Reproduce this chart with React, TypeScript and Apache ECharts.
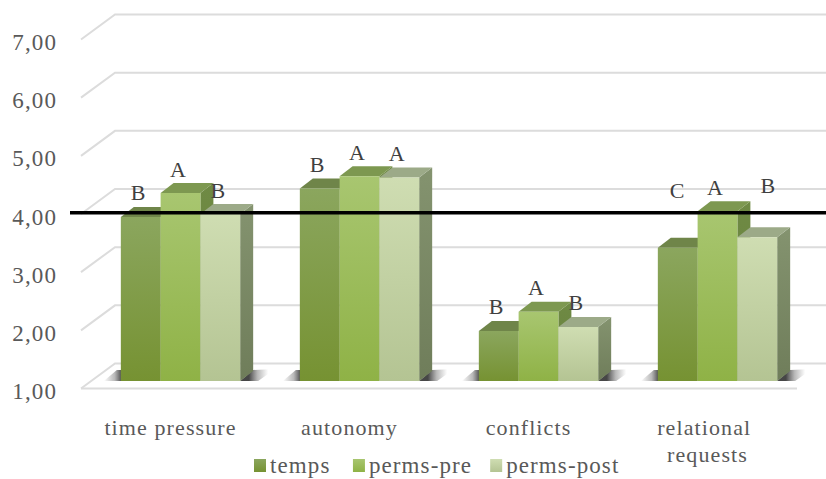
import React, { useEffect, useRef } from "react";
import * as echarts from "echarts";

const categories = ["time pressure", "autonomy", "conflicts", "relational requests"];
const seriesNames = ["temps", "perms-pre", "perms-post"];
const temps = [3.82, 4.31, 1.86, 3.29];
const permsPre = [4.23, 4.52, 2.19, 3.92];
const permsPost = [3.87, 4.5, 1.93, 3.47];
const tempsLetters = ["B", "B", "B", "C"];
const permsPreLetters = ["A", "A", "A", "A"];
const permsPostLetters = ["B", "A", "B", "B"];
const axisTicks = [1, 2, 3, 4, 5, 6, 7];
const referenceLevel = [4.02];

// Pseudo-3D projection, in pixels
const WALL = { dx: 34, dy: -25 };
const BAR_PLANE = { dx: 10, dy: -7.5 };
const BAR_DEPTH = { dx: 13, dy: -10 };
const BAR_RATIO = 2 / 9;
const FONT = "Liberation Serif";

const vGrad = (top: string, bottom: string) =>
  new echarts.graphic.LinearGradient(0, 0, 0, 1, [
    { offset: 0, color: top },
    { offset: 1, color: bottom },
  ]);

const palettes = [
  { front: ["#8ba65e", "#769232"], side: ["#6b8044", "#5e7230"], top: "#6f8549", legend: ["#8ba65e", "#769232"] },
  { front: ["#a8c670", "#8fb246"], side: ["#6f8a44", "#66803c"], top: "#7d9850", legend: ["#a8c670", "#8fb246"] },
  { front: ["#cfddb2", "#b4c493"], side: ["#84936f", "#6f7d5a"], top: "#9caa88", legend: ["#cfddb2", "#b4c493"] },
];

const tripleValues = [temps, permsPre, permsPost];
const tripleLetters = [tempsLetters, permsPreLetters, permsPostLetters];
// Letters sit above their bar; two of them were placed by hand further up
const LETTER_SHIFT = { dx: -2, dy: -24 };
const letterOverrides: Record<string, { dx: number; dy: number }> = {
  "3-0": { dx: 0, dy: -57 },
  "3-2": { dx: 11, dy: -52 },
};

function barGeometry(api: any, s: number) {
  const cat = api.value(0);
  const v = api.value(1);
  const band = api.size([1, 0])[0];
  const w = band * BAR_RATIO;
  const [cx, top] = api.coord([cat, v]);
  const base = api.coord([cat, 1])[1];
  const x0 = cx + (s - 1.5) * w + BAR_PLANE.dx;
  return { x0, x1: x0 + w, top: top + BAR_PLANE.dy, base: base + BAR_PLANE.dy };
}

function renderWalls(_: any, api: any) {
  const v = api.value(1);
  const band = api.size([1, 0])[0];
  const [cx, y] = api.coord([0, v]);
  const left = cx - band / 2;
  const right = left + band * categories.length;
  const stroke = { stroke: "#dcdcdc", lineWidth: 2, fill: "none" };
  const children: any[] = [
    {
      type: "polyline",
      shape: { points: [[left, y], [left + WALL.dx, y + WALL.dy], [right + WALL.dx, y + WALL.dy]] },
      style: stroke,
    },
  ];
  if (v === axisTicks[0]) {
    children.push({ type: "line", shape: { x1: left, y1: y, x2: right, y2: y }, style: stroke });
  }
  return { type: "group", children };
}

// Soft floor shadows to the left and right of each bar group
function renderShadow(_: any, api: any) {
  const cat = api.value(0);
  const band = api.size([1, 0])[0];
  const w = band * BAR_RATIO;
  const [cx, base0] = api.coord([cat, 1]);
  const base = base0 + BAR_PLANE.dy;
  const xl = cx - 1.5 * w + BAR_PLANE.dx;
  const xr = cx + 1.5 * w + BAR_PLANE.dx;
  const leftGrad = new echarts.graphic.LinearGradient(0, 0, 1, 0, [
    { offset: 0, color: "rgba(80,80,80,0)" },
    { offset: 0.6, color: "rgba(80,80,80,0.4)" },
    { offset: 1, color: "rgba(50,50,50,0.9)" },
  ]);
  const rightGrad = new echarts.graphic.LinearGradient(0, 0, 1, 0, [
    { offset: 0.25, color: "rgba(50,50,50,0.9)" },
    { offset: 0.5, color: "rgba(80,80,80,0.4)" },
    { offset: 0.8, color: "rgba(80,80,80,0)" },
  ]);
  return {
    type: "group",
    children: [
      {
        type: "polygon",
        shape: { points: [[xl + 1, base], [xl + 1, base - 11], [xl - 4, base - 11], [xl - 17, base]] },
        style: { fill: leftGrad },
      },
      {
        type: "polygon",
        shape: { points: [[xr, base], [xr + 13, base - 11], [xr + 35, base - 12], [xr + 18, base]] },
        style: { fill: rightGrad },
      },
    ],
  };
}

const renderBar = (s: number) => (_: any, api: any) => {
  const { x0, x1, top, base } = barGeometry(api, s);
  const p = palettes[s];
  const d = BAR_DEPTH;
  return {
    type: "group",
    children: [
      {
        type: "polygon",
        shape: { points: [[x1, top], [x1 + d.dx, top + d.dy], [x1 + d.dx, base + d.dy], [x1, base]] },
        style: { fill: vGrad(p.side[0], p.side[1]) },
      },
      {
        type: "polygon",
        shape: { points: [[x0, top], [x0 + d.dx, top + d.dy], [x1 + d.dx, top + d.dy], [x1, top]] },
        style: { fill: p.top },
      },
      {
        type: "rect",
        shape: { x: x0, y: top, width: x1 - x0, height: base - top },
        style: { fill: vGrad(p.front[0], p.front[1]) },
      },
    ],
  };
};

const renderLetters = (s: number) => (_: any, api: any) => {
  const cat = api.value(0);
  const { x0, x1, top } = barGeometry(api, s);
  const shift = letterOverrides[`${cat}-${s}`] || LETTER_SHIFT;
  return {
    type: "text",
    x: (x0 + x1) / 2 + shift.dx,
    y: top + shift.dy,
    style: {
      text: tripleLetters[s][cat],
      font: `22px "${FONT}"`,
      fill: "#404040",
      textAlign: "center",
      textVerticalAlign: "middle",
    },
  };
};

function renderThreshold(_: any, api: any) {
  const band = api.size([1, 0])[0];
  const [cx, y] = api.coord([0, api.value(1)]);
  const left = cx - band / 2;
  return {
    type: "line",
    shape: { x1: left - 11, y1: y, x2: left + band * categories.length + 40, y2: y },
    style: { stroke: "#000000", lineWidth: 3.5 },
  };
}

export default function App() {
  const ref = useRef<HTMLDivElement>(null);

  useEffect(() => {
    const chart = echarts.init(ref.current!, undefined, { renderer: "svg" });
    chart.setOption({
      animation: false,
      backgroundColor: "#ffffff",
      grid: { left: 81, top: 39.5, width: 716, height: 349 },
      legend: {
        data: seriesNames.map((name) => ({ name, icon: "rect" })),
        left: 249,
        top: 449,
        itemWidth: 12,
        itemHeight: 13,
        itemGap: 28,
        textStyle: { fontFamily: FONT, fontSize: 23, color: "#595959", padding: [0, 0, 0, -1] },
      },
      xAxis: {
        type: "category",
        data: categories,
        axisLine: { show: false },
        axisTick: { show: false },
        axisLabel: {
          interval: 0,
          width: 145,
          overflow: "break",
          margin: 25,
          fontFamily: FONT,
          fontSize: 22,
          lineHeight: 27,
          color: "#595959",
        },
      },
      yAxis: {
        type: "value",
        min: 1,
        max: 7,
        interval: 1,
        axisLine: { show: false },
        axisTick: { show: false },
        splitLine: { show: false },
        axisLabel: {
          margin: 24,
          verticalAlign: "top",
          lineHeight: 6,
          fontFamily: FONT,
          fontSize: 23,
          color: "#595959",
          formatter: (v: number) => v.toFixed(2).replace(".", ","),
        },
      },
      series: [
        {
          type: "custom",
          name: "walls",
          z: 1,
          renderItem: renderWalls,
          data: axisTicks.map((v) => [0, v]),
          encode: { x: 0, y: 1 },
          silent: true,
        },
        {
          type: "custom",
          name: "floor shadows",
          z: 2,
          renderItem: renderShadow,
          data: categories.map((_, i) => [i, 1]),
          encode: { x: 0, y: 1 },
          silent: true,
        },
        ...seriesNames.map((name, s) => ({
          type: "custom",
          name,
          z: 3 + s,
          renderItem: renderBar(s),
          itemStyle: { color: vGrad(palettes[s].legend[0], palettes[s].legend[1]) },
          data: tripleValues[s].map((v, i) => [i, v]),
          encode: { x: 0, y: 1 },
        })),
        {
          type: "custom",
          name: "reference level",
          z: 7,
          renderItem: renderThreshold,
          data: referenceLevel.map((v) => [0, v]),
          encode: { x: 0, y: 1 },
          silent: true,
        },
        ...seriesNames.map((name, s) => ({
          type: "custom",
          name: `${name} letters`,
          z: 8,
          renderItem: renderLetters(s),
          data: tripleValues[s].map((v, i) => [i, v]),
          encode: { x: 0, y: 1 },
          silent: true,
        })),
      ],
    });
    return () => chart.dispose();
  }, []);

  // The wider tracking of all chart text comes from inherited CSS
  return (
    <div
      ref={ref}
      style={{ position: "absolute", left: 0, top: 0, width: 826, height: 479, letterSpacing: "1.1px" }}
    />
  );
}
